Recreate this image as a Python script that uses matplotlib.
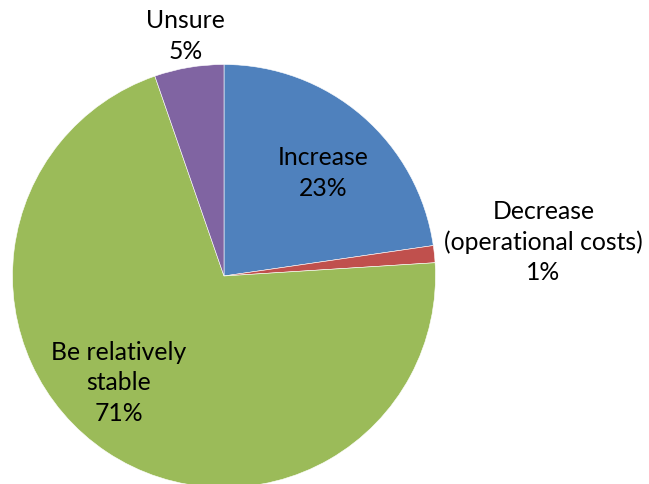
import matplotlib
matplotlib.use("Agg")
import matplotlib.pyplot as plt

categories = ["Increase", "Decrease\n(operational costs)", "Be relatively\nstable", "Unsure"]
values = [22.7, 1.3, 70.7, 5.3]
pct_labels = ["23%", "1%", "71%", "5%"]
colors = ["#4F81BD", "#C0504D", "#9BBB59", "#8064A2"]

W, H = 649, 484
fig = plt.figure(figsize=(W / 100, H / 100), dpi=100)
ax = fig.add_axes([0, 0, 1, 1])

center = (224, H - 276)
radius = 211.5
ax.pie(values, colors=colors, startangle=90, counterclock=False,
       center=center, radius=radius, frame=True,
       wedgeprops=dict(edgecolor="white", linewidth=0.4))
ax.set_xlim(0, W)
ax.set_ylim(0, H)
ax.set_aspect("equal")
ax.axis("off")

# label positions (pixel coords from top-left)
label_pos = [(323.5, 173), (543.5, 242), (118.5, 383), (185.5, 36)]
for cat, pct, (x, y) in zip(categories, pct_labels, label_pos):
    ax.text(x, H - y, f"{cat}\n{pct}", ha="center", va="center",
            multialignment="center", fontsize=17.8, family="Lato",
            color="black", linespacing=1.38)

fig.savefig("out.png", dpi=100)
